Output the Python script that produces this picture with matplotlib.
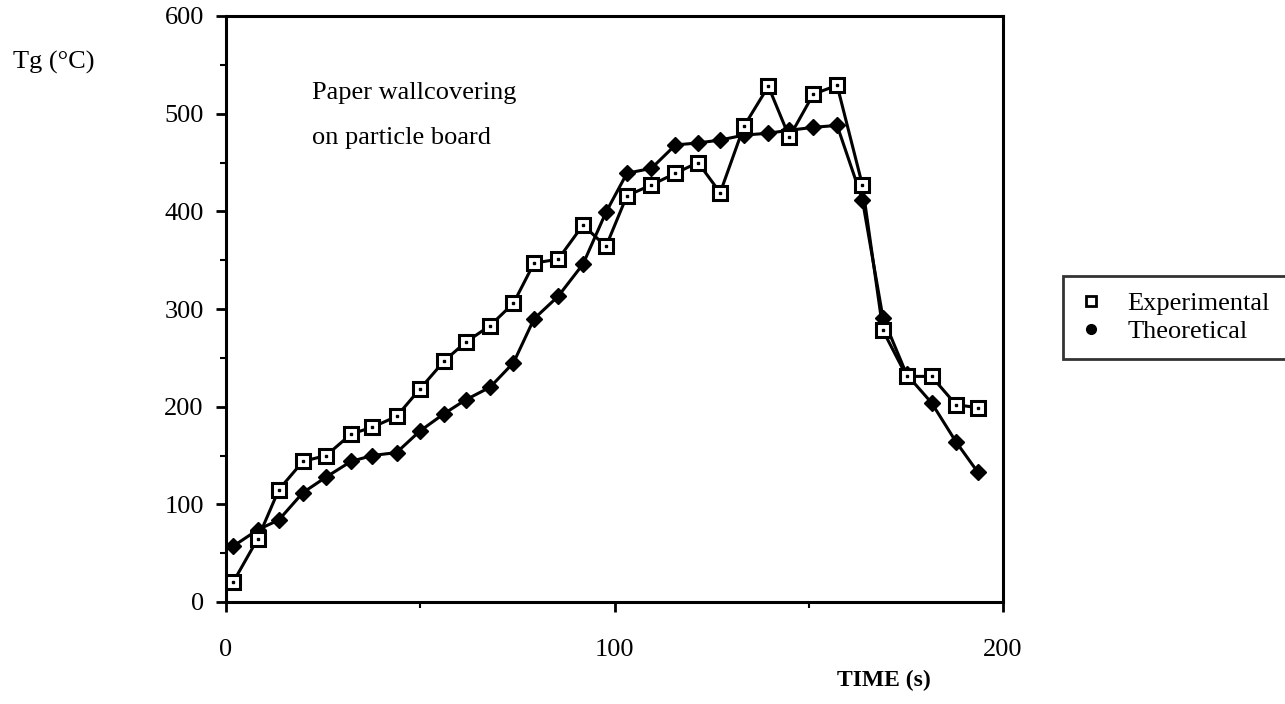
import matplotlib
matplotlib.use("Agg")
import matplotlib.pyplot as plt
from matplotlib.lines import Line2D
from matplotlib.ticker import MultipleLocator

plt.rcParams['font.family'] = ['Liberation Serif', 'DejaVu Serif']

W, H = 1285, 704

# time (s), shared by both series
time_s = [1.8, 8.2, 13.6, 19.8, 25.8, 32.2, 37.7, 43.9, 49.9, 56.2, 61.7,
          68.0, 74.0, 79.3, 85.5, 91.9, 97.8, 103.2, 109.5, 115.7, 121.5,
          127.2, 133.3, 139.6, 145.0, 151.2, 157.3, 163.8, 169.1, 175.2,
          181.6, 187.9, 193.5]

experimental = [20, 65, 115, 144, 150, 172, 179, 190, 218, 247, 266,
                283, 306, 347, 351, 386, 364, 416, 427, 439, 450,
                419, 487, 528, 476, 520, 529, 427, 278, 231,
                231, 202, 199]

theoretical = [57, 74, 84, 112, 128, 144, 150, 153, 175, 193, 207,
               220, 245, 290, 313, 346, 399, 439, 444, 468, 470,
               473, 478, 480, 483, 486, 488, 412, 291, 233,
               204, 164, 133]

fig = plt.figure(figsize=(W / 100, H / 100), dpi=100)
ax = fig.add_axes([226 / W, 1 - 602 / H, 777 / W, 586 / H])

ax.plot(time_s, theoretical, color='black', lw=2.2, marker='D',
        markersize=8, markerfacecolor='black', markeredgecolor='black', zorder=2)
ax.plot(time_s, experimental, color='black', lw=2.2, marker='s',
        markersize=10, markerfacecolor='white', markeredgecolor='black',
        markeredgewidth=2.2, zorder=3)
ax.plot(time_s, experimental, linestyle='none', marker='s', markersize=2,
        color='black', zorder=4)

ax.set_xlim(0, 200)
ax.set_ylim(0, 600)
ax.xaxis.set_major_locator(MultipleLocator(100))
ax.xaxis.set_minor_locator(MultipleLocator(50))
ax.yaxis.set_major_locator(MultipleLocator(100))
ax.yaxis.set_minor_locator(MultipleLocator(50))
ax.tick_params(axis='both', which='major', direction='out', length=7,
               width=2, labelsize=19)
ax.tick_params(axis='both', which='minor', direction='out', length=4, width=1.5)
ax.tick_params(axis='y', pad=9)
ax.tick_params(axis='x', pad=20)
for sp in ax.spines.values():
    sp.set_linewidth(2.2)
    sp.set_color('black')

# axis titles and annotation
fig.text(13 / W, 1 - 62 / H, 'Tg (°C)', fontsize=19, va='center', ha='left')
fig.text(884 / W, 1 - 680 / H, 'TIME (s)', fontsize=17, fontweight='bold',
         va='center', ha='center')
fig.text(312 / W, 1 - 93 / H, 'Paper wallcovering', fontsize=19, va='center')
fig.text(312 / W, 1 - 138 / H, 'on particle board', fontsize=19, va='center')

handles = [
    Line2D([], [], linestyle='none', marker='s', markersize=7,
           markerfacecolor='white', markeredgecolor='black', markeredgewidth=2),
    Line2D([], [], linestyle='none', marker='o', markersize=7,
           markerfacecolor='black', markeredgecolor='black'),
]
leg = fig.legend(handles, ['Experimental', 'Theoretical'],
                 loc='upper left', bbox_to_anchor=(1063 / W, 1 - 276 / H),
                 fontsize=19, frameon=True, fancybox=False, edgecolor='black',
                 handlelength=0.9, handletextpad=0.95, labelspacing=0.15,
                 borderpad=0.6, borderaxespad=0)
leg.get_frame().set_linewidth(2)

fig.savefig('out.png', dpi=100)
